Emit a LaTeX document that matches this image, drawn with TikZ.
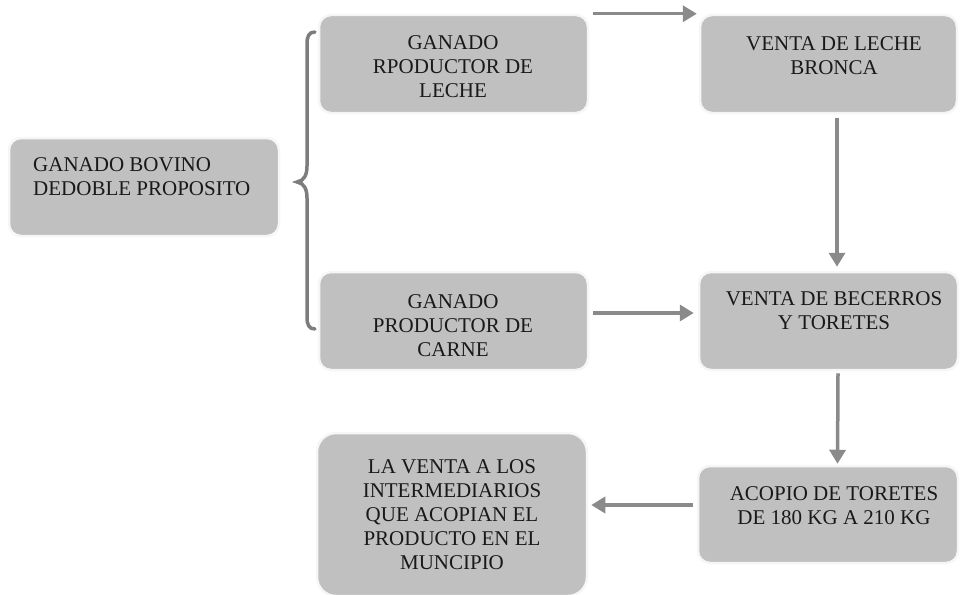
\documentclass[tikz,border=0pt]{standalone}
\usepackage{fontspec}
\setmainfont{Liberation Serif}
\usetikzlibrary{arrows.meta}
\definecolor{boxgray}{RGB}{192,192,192}
\definecolor{edgegray}{RGB}{246,246,246}
\definecolor{arrowgray}{RGB}{138,138,138}
\definecolor{bracegray}{RGB}{125,125,125}
\definecolor{txt}{RGB}{25,25,25}
\begin{document}
\begin{tikzpicture}[x=1pt,y=-1pt,
  boxnode/.style={draw=edgegray, line width=2.5pt, fill=boxgray, rounded corners=12pt, inner sep=0pt},
  txtnode/.style={inner sep=0pt, text=txt, font=\fontsize{21}{24}\selectfont},
  arr/.style={draw=arrowgray, line width=3.5pt, -{Triangle[length=14pt,width=16pt]}},
  bracestyle/.style={draw=bracegray, line width=3.5pt, line cap=round}]
\useasboundingbox (0,0) rectangle (960,594);
% boxes
\node[boxnode, minimum width=270pt, minimum height=98pt] (A) at (144,187) {};
\node[boxnode, minimum width=269pt, minimum height=98pt] (B) at (453.5,64) {};
\node[boxnode, minimum width=269pt, minimum height=98pt] (C) at (453.5,321) {};
\node[boxnode, minimum width=257pt, minimum height=98pt] (D) at (828.5,64) {};
\node[boxnode, minimum width=259pt, minimum height=98pt] (E) at (828.5,321) {};
\node[boxnode, minimum width=260pt, minimum height=97pt] (F) at (828,514.5) {};
\node[boxnode, rounded corners=19pt, minimum width=270pt, minimum height=163pt] (G) at (452,514.5) {};
% texts
\node[txtnode, anchor=north west, align=left] (tA) at (33,157) {GANADO BOVINO\\DEDOBLE PROPOSITO};
\node[txtnode, anchor=north, align=center] (tB) at (453,35) {GANADO\\RPODUCTOR DE\\LECHE};
\node[txtnode, anchor=north, align=center] (tC) at (453,294) {GANADO\\PRODUCTOR DE\\CARNE};
\node[txtnode, anchor=north, align=center] (tD) at (834,36) {VENTA DE LECHE\\BRONCA};
\node[txtnode, anchor=north, align=center] (tE) at (834,291) {VENTA DE BECERROS\\Y TORETES};
\node[txtnode, anchor=north, align=center] (tF) at (834,486) {ACOPIO DE TORETES\\DE 180 KG A 210 KG};
\node[txtnode, anchor=north, align=center] (tG) at (452,459) {LA VENTA A LOS\\INTERMEDIARIOS\\QUE ACOPIAN EL\\PRODUCTO EN EL\\MUNCIPIO};
% connectors
\draw[arr] ([xshift=4pt]B.north east) -- ([xshift=-2pt]D.north west);
\draw[arr] ([xshift=4pt,yshift=8pt]C.east) -- ([xshift=-4pt,yshift=8pt]E.west);
\draw[arr] ([xshift=8.5pt,yshift=-4pt]D.south) -- ([xshift=8.5pt,yshift=4pt]E.north);
\draw[arr] ([xshift=9.5pt,yshift=-2pt]E.south) -- ([xshift=9.5pt,yshift=1pt]F.north);
\draw[arr] ([xshift=-4pt,yshift=9.5pt]F.west) -- ([xshift=3pt,yshift=9.5pt]G.east);
% brace
\coordinate (btop) at (315,32);
\coordinate (bmid) at (297,182);
\coordinate (bbot) at (315,329);
\draw[bracestyle] (btop) .. controls (309,32) and (307,36) .. (307,44) -- (307,166)
  .. controls (307,175) and (304,181) .. (bmid)
  .. controls (304,183) and (307,189) .. (307,198) -- (307,317)
  .. controls (307,325) and (309,329) .. (bbot);
\end{tikzpicture}
\end{document}
